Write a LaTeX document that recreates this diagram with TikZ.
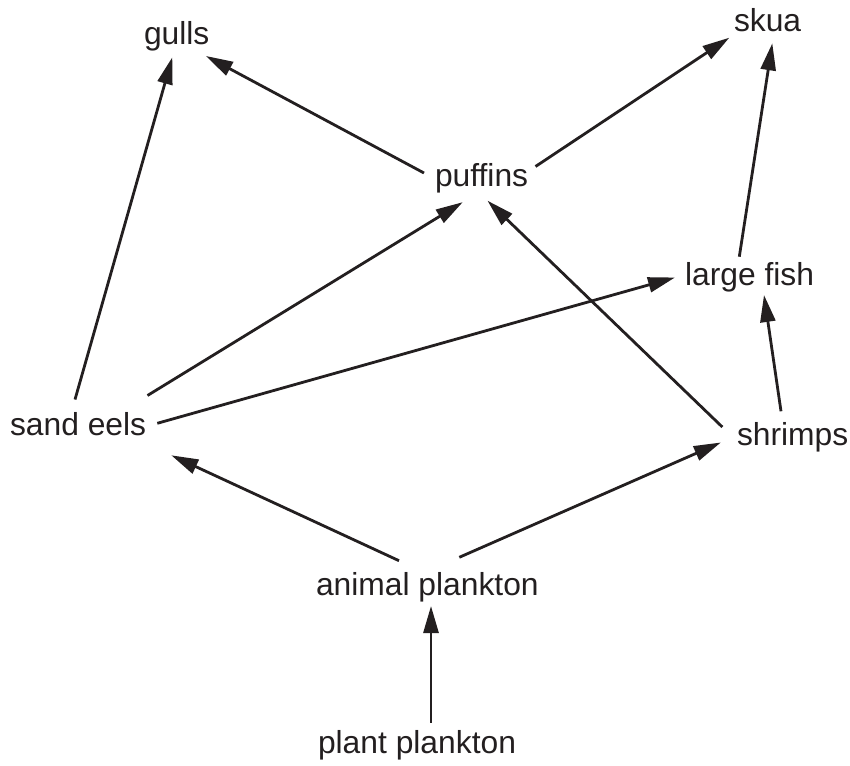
\documentclass[tikz,border=0pt]{standalone}
\usepackage{fontspec}
\usetikzlibrary{arrows.meta,calc}
\newfontfamily\labelfont{Liberation Sans}
\definecolor{ink}{HTML}{231F20}
\tikzset{
  species/.style={anchor=base west, inner sep=0pt, outer sep=0pt, text=ink,
    font=\labelfont\fontsize{31.8}{38}\selectfont},
  feeds/.style={draw=ink, line width=2.8pt,
    -{Triangle[length=27pt,width=15pt]}},
}
% energy flows from the eaten (first) to the eater (second)
\newcommand\foodlink[4]{\draw[feeds] ($(#1.base west)+(#2)$) -- ($(#3.base west)+(#4)$);}
\begin{document}
\begin{tikzpicture}[x=1pt,y=-1pt]
  \useasboundingbox (0,0) rectangle (850,765);
  \node[species] (gulls)   at (144,44.3) {gulls};
  \node[species] (skua)    at (734,31.7) {skua};
  \node[species] (puffins) at (435,186)  {puffins};
  \node[species] (fish)    at (685,285)  {large fish};
  \node[species] (eels)    at (10,435)   {sand eels};
  \node[species] (shrimps) at (737,445)  {shrimps};
  \node[species] (animal)  at (316,595)  {animal plankton};
  \node[species] (plant)   at (318,753)  {plant plankton};

  \foodlink{puffins}{-11,-13}{gulls}{62,11.7}
  \foodlink{puffins}{100.5,-19.5}{skua}{-4.7,6}
  \foodlink{fish}{54.3,-28.3}{skua}{38.3,11.6}
  \foodlink{eels}{65,-35.5}{gulls}{28.3,13}
  \foodlink{eels}{137.5,-39.5}{puffins}{27.7,16.2}
  \foodlink{eels}{147.3,-11.7}{fish}{-10,-7.5}
  \foodlink{shrimps}{-14.7,-18}{puffins}{52.5,14.7}
  \foodlink{shrimps}{44,-33.7}{fish}{79,10}
  \foodlink{animal}{83,-34.3}{eels}{161.3,20.3}
  \foodlink{animal}{143.3,-37.7}{shrimps}{-16.2,-2.5}
  \foodlink{plant}{113,-30.3}{animal}{115,11}
\end{tikzpicture}
\end{document}
